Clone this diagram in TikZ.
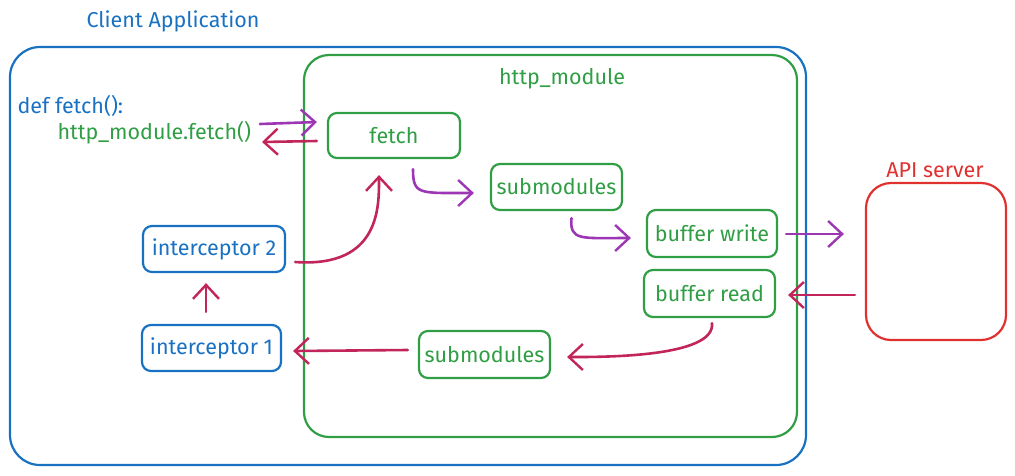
\documentclass[tikz,border=0pt]{standalone}
\usepackage{fontspec}
\setmainfont{Fira Sans}
\usetikzlibrary{arrows.meta,calc}
\definecolor{cblue}{HTML}{1971C2}
\definecolor{cgreen}{HTML}{2F9E44}
\definecolor{cred}{HTML}{E03131}
\definecolor{cpurple}{HTML}{9C36B5}
\definecolor{ccrimson}{HTML}{C2255C}
\tikzset{
  txt/.style={font=\fontsize{21.5}{24}\selectfont},
  gbox/.style={draw=cgreen, line width=2.2pt, rounded corners=9pt, text=cgreen, txt, inner sep=0pt},
  bbox/.style={draw=cblue, line width=2.2pt, rounded corners=9pt, text=cblue, txt, inner sep=0pt},
  arr/.style={line width=2.6pt, line cap=round, -{Straight Barb[length=14pt,width=26pt,line width=2.4pt]}},
  parrow/.style={arr, draw=cpurple},
  rarrow/.style={arr, draw=ccrimson},
}
\begin{document}
\begin{tikzpicture}[x=1pt,y=-1pt]
\useasboundingbox (0,0) rectangle (1015,475);
% containers
\node[draw=cblue, line width=2.2pt, rounded corners=30pt, minimum width=796pt, minimum height=418pt, inner sep=0pt] (client) at (408,256) {};
\node[txt, text=cblue] (clientlbl) at (173,21) {Client Application};
\node[draw=cgreen, line width=2.2pt, rounded corners=25pt, minimum width=493pt, minimum height=382pt, inner sep=0pt] (http) at (550.5,246) {};
\node[txt, text=cgreen] (httplbl) at (562,79) {http\_module};
\node[draw=cred, line width=2.2pt, rounded corners=25pt, minimum width=140pt, minimum height=157pt, inner sep=0pt] (api) at (936,261.5) {};
\node[txt, text=cred] (apilbl) at (935,170) {API server};
% code text
\node[txt, text=cblue, anchor=west] (deff) at (14,106) {def fetch():};
\node[txt, text=cgreen, anchor=west] (call) at (54,133) {http\_module.fetch()};
% boxes
\node[gbox, minimum width=132pt, minimum height=45pt] (fetch) at (394,135.5) {fetch};
\node[gbox, minimum width=131pt, minimum height=46pt] (sub1) at (556.5,187) {submodules};
\node[gbox, minimum width=130pt, minimum height=47pt] (bw) at (712,233.5) {buffer write};
\node[gbox, minimum width=131pt, minimum height=47pt] (br) at (709.5,293.5) {buffer read};
\node[gbox, minimum width=131pt, minimum height=47pt] (sub2) at (484.5,354.5) {submodules};
\node[bbox, minimum width=142pt, minimum height=46pt] (int2) at (214,249) {interceptor 2};
\node[bbox, minimum width=139pt, minimum height=46pt] (int1) at (211.5,348) {interceptor 1};
% connectors
\coordinate (c1s) at (260,124);
\coordinate (c2e) at (262,142);
\draw[parrow] (c1s) -- ($(fetch.west)+(-10,-13.5)$);
\draw[rarrow] ($(fetch.west)+(-10,5.5)$) -- (c2e);
\draw[parrow] ($(fetch.south)+(19,10)$) .. controls ++(0,26) and ++(-55,0) .. ($(sub1.west)+(-16,6)$);
\draw[parrow] ($(sub1.south)+(15,7)$) .. controls ++(-2,23) and ++(-50,0) .. ($(bw.west)+(-15,4.5)$);
\draw[parrow] ($(bw.east)+(8,0.5)$) -- ($(api.west)+(-21,-27.5)$);
\draw[rarrow] ($(api.west)+(-10,33.5)$) -- ($(br.east)+(12,1.5)$);
\draw[rarrow] ($(br.south)+(2.5,5)$) .. controls ++(4,35) and ++(30,0) .. ($(sub2.east)+(16,2.5)$);
\draw[rarrow] ($(sub2.west)+(-10,-4.5)$) -- ($(int1.east)+(11,3)$);
\draw[rarrow] ($(int1.north)+(-5.5,-12)$) -- ($(int2.south)+(-8,10)$);
\draw[rarrow] ($(int2.east)+(9,13)$) .. controls ++(86,6) and ++(0,30) .. ($(fetch.south)+(-15,16)$);
\end{tikzpicture}
\end{document}
